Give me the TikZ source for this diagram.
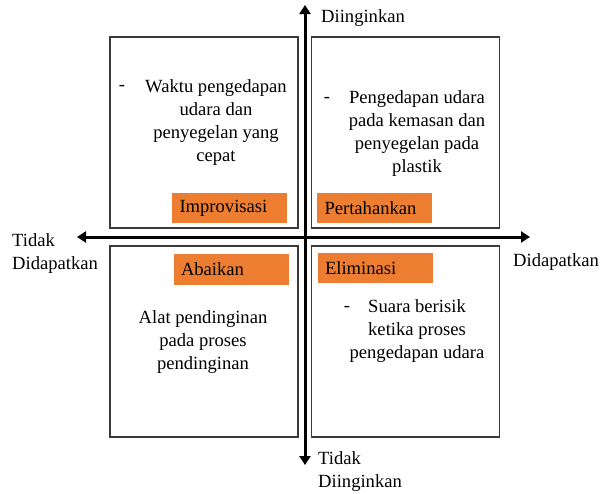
\documentclass[tikz,border=0pt]{standalone}
\usepackage{fontspec}
\setmainfont{Liberation Serif}
\usetikzlibrary{arrows.meta}
\definecolor{lbl}{HTML}{ED7D31}
\definecolor{edge}{HTML}{3A3A3A}
\tikzset{
  quad/.style={draw=edge,line width=1.2pt,minimum width=188pt,minimum height=191pt,inner sep=0pt},
  tag/.style={fill=lbl,minimum height=30pt,text width=100pt,inner xsep=7.5pt,inner ysep=0pt,align=left},
  body/.style={align=center,inner sep=0pt},
  lab/.style={inner sep=0pt},
  axis/.style={line width=3pt,{Triangle[width=11pt,length=9pt]}-{Triangle[width=11pt,length=9pt]}},
}
\begin{document}
\begin{tikzpicture}[x=1pt,y=-1pt,font=\fontsize{18.6}{23}\selectfont]
\useasboundingbox (0,0) rectangle (602,493);
% quadrants
\node[quad] (tl) at (204,132.5) {};
\node[quad] (tr) at (405.5,132.5) {};
\node[quad] (bl) at (204,341.5) {};
\node[quad] (br) at (405.5,341.5) {};
% axes
\coordinate (top) at (305,5);
\coordinate (bot) at (305,465);
\coordinate (lft) at (77,237);
\coordinate (rgt) at (530,237);
\draw[axis] (lft) -- (rgt);
\draw[axis] (bot) -- (top);
% axis labels
\node[lab,anchor=west] (ya) at (321,18) {Diinginkan};
\node[lab,anchor=west,align=left] (yb) at (318,472) {Tidak\\Diinginkan};
\node[lab,anchor=west,align=left] (xa) at (12,254) {Tidak\\Didapatkan};
\node[lab,anchor=west] (xb) at (513,262) {Didapatkan};
% tags
\node[tag] (t1) at (229.5,208) {Improvisasi};
\node[tag] (t2) at (374.5,208) {Pertahankan};
\node[tag,minimum height=31pt] (t3) at (231,269.5) {Abaikan};
\node[tag] (t4) at (375,268) {Eliminasi};
% texts
\node[lab] (d1) at (122,88) {-};
\node[body] (b1) at (216,122.5) {Waktu pengedapan\\udara dan\\penyegelan yang\\cepat};
\node[lab] (d2) at (327,100) {-};
\node[body] (b2) at (417,133.5) {Pengedapan udara\\pada kemasan dan\\penyegelan pada\\plastik};
\node[body] (b3) at (203,342.5) {Alat pendinginan\\pada proses\\pendinginan};
\node[lab] (d4) at (347,309) {-};
\node[body] (b4) at (417,331.5) {Suara berisik\\ketika proses\\pengedapan udara};
\end{tikzpicture}
\end{document}
